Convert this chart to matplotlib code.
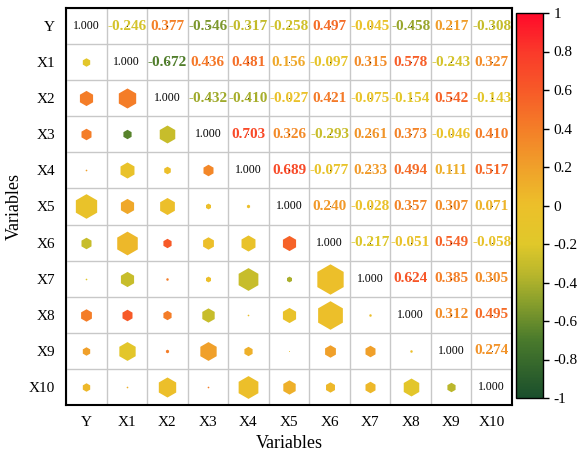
import matplotlib.pyplot as plt
import numpy as np
from matplotlib.colors import LinearSegmentedColormap, Normalize

plt.rcParams['font.family'] = ['Liberation Serif', 'DejaVu Serif']
plt.rcParams['axes.unicode_minus'] = False

labels = ['Y', 'X1', 'X2', 'X3', 'X4', 'X5', 'X6', 'X7', 'X8', 'X9', 'X10']

# upper triangle: printed coefficients, row by row (j > i)
upper_rows = [
    [-0.246, 0.377, -0.546, -0.317, -0.258, 0.497, -0.045, -0.458, 0.217, -0.308],
    [-0.672, 0.436, 0.481, 0.156, -0.097, 0.315, 0.578, -0.243, 0.327],
    [-0.432, -0.410, -0.027, 0.421, -0.075, -0.154, 0.542, -0.143],
    [0.703, 0.326, -0.293, 0.261, 0.373, -0.046, 0.410],
    [0.689, -0.077, 0.233, 0.494, 0.111, 0.517],
    [0.240, -0.028, 0.357, 0.307, 0.071],
    [-0.217, -0.051, 0.549, -0.058],
    [0.624, 0.385, 0.305],
    [0.312, 0.495],
    [0.274],
]

# lower triangle: hexagon colour value (j < i)
lower_val = [
    [-0.15],
    [0.40, 0.40],
    [0.40, -0.65, -0.30],
    [0.20, -0.05, 0.00, 0.35],
    [-0.05, 0.15, 0.00, 0.00, 0.00],
    [-0.30, 0.05, 0.60, 0.00, -0.05, 0.55],
    [-0.20, -0.30, 0.40, 0.00, -0.30, -0.40, 0.00],
    [0.40, 0.60, 0.40, -0.30, 0.00, -0.05, 0.00, 0.00],
    [0.20, -0.15, 0.40, 0.20, 0.10, 0.00, 0.20, 0.20, 0.00],
    [0.05, 0.10, 0.00, 0.40, 0.00, 0.10, 0.05, 0.05, -0.15, -0.35],
]

# lower triangle: hexagon weight (relative size)
lower_w = [
    [0.28],
    [0.50, 0.66],
    [0.38, 0.31, 0.59],
    [0.06, 0.53, 0.25, 0.38],
    [0.81, 0.50, 0.56, 0.19, 0.12],
    [0.38, 0.78, 0.31, 0.41, 0.53, 0.50],
    [0.06, 0.50, 0.09, 0.19, 0.75, 0.19, 1.00],
    [0.41, 0.38, 0.31, 0.47, 0.06, 0.50, 0.94, 0.09],
    [0.28, 0.62, 0.12, 0.62, 0.31, 0.03, 0.41, 0.38, 0.09],
    [0.28, 0.06, 0.66, 0.06, 0.75, 0.47, 0.34, 0.38, 0.59, 0.31],
]

cmap = LinearSegmentedColormap.from_list('corr', [
    (0.00, '#1a4f2c'),
    (0.15, '#4a7a2c'),
    (0.25, '#8aa02c'),
    (0.32, '#b8b62c'),
    (0.40, '#e0c82a'),
    (0.50, '#ecc02a'),
    (0.60, '#f0a02a'),
    (0.70, '#f47e28'),
    (0.80, '#f75a28'),
    (0.90, '#fa3a2a'),
    (1.00, '#ff0a2a'),
])
norm = Normalize(-1, 1)

n = len(labels)
fig = plt.figure(figsize=(5.82, 4.54), dpi=100)
ax = fig.add_axes([66 / 582, 1 - 405 / 454, 446 / 582, 397 / 454])
cax = fig.add_axes([516 / 582, 1 - 398 / 454, 27 / 582, 385 / 454])

for k in range(n + 1):
    ax.axhline(k - 0.5, color='#c8c8c8', lw=1, zorder=0)
    ax.axvline(k - 0.5, color='#c8c8c8', lw=1, zorder=0)

for i in range(n):
    ax.text(i, i, '1.000', ha='center', va='center', fontsize=8.5, color='black')
    for j in range(i + 1, n):
        v = upper_rows[i][j - i - 1]
        ax.text(j, i, f'{v:.3f}', ha='center', va='center', fontsize=11,
                fontweight='bold', color=cmap(norm(v)))
        ax.plot(j, i, marker='s', ms=0.5, mew=0, color='black', zorder=3)
    for j in range(i):
        v = lower_val[i - 1][j]
        w = lower_w[i - 1][j]
        d_px = 32 * w
        ax.plot(j, i, marker='h', ms=d_px / 1.389 * 0.95, mew=0,
                color=cmap(norm(v)), zorder=2)

ax.set_xlim(-0.5, n - 0.5)
ax.set_ylim(n - 0.5, -0.5)
ax.set_xticks(range(n))
ax.set_xticklabels(labels, fontsize=11)
ax.set_yticks(range(n))
ax.set_yticklabels(labels, fontsize=11)
ax.tick_params(length=0, pad=8)
ax.set_xlabel('Variables', fontsize=13, labelpad=4)
ax.set_ylabel('Variables', fontsize=13, labelpad=4)
for s in ax.spines.values():
    s.set_linewidth(1.5)

sm = plt.cm.ScalarMappable(norm=norm, cmap=cmap)
cb = fig.colorbar(sm, cax=cax, ticks=np.linspace(-1, 1, 11))
cb.ax.set_yticklabels(['%g' % t for t in np.round(np.linspace(-1, 1, 11), 1)], fontsize=11)
cb.outline.set_linewidth(1)
cb.ax.tick_params(length=4, width=1)

fig.savefig('out.png', dpi=100)
